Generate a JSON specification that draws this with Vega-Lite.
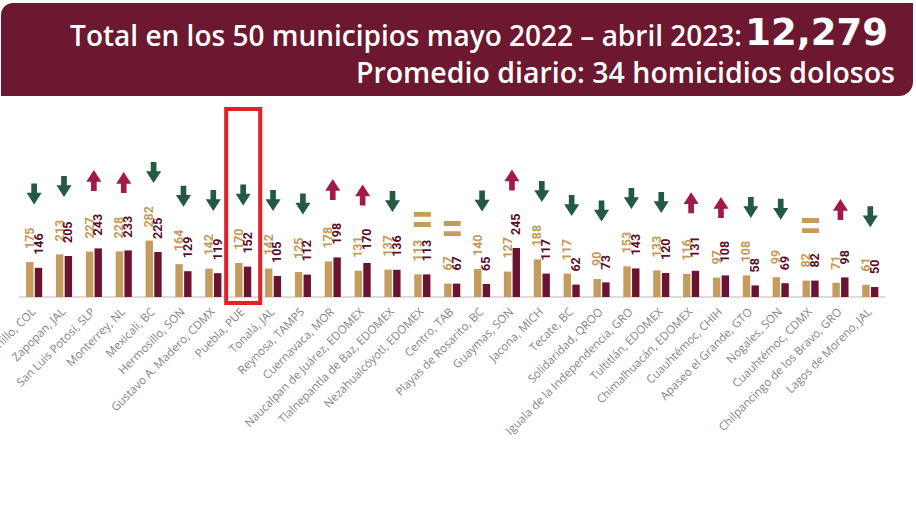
{
  "$schema": "https://vega.github.io/schema/vega-lite/v6.json",
  "autosize": "none",
  "width": 912,
  "height": 297,
  "padding": {"left": 1, "top": 0, "right": 3, "bottom": 231},
  "background": "#ffffff",
  "config": {"view": {"stroke": null}},
  "data": {
    "values": [
      {"municipio": "Manzanillo, COL", "anterior": 175, "actual": 146},
      {"municipio": "Zapopan, JAL", "anterior": 213, "actual": 205},
      {"municipio": "San Luis Potosí, SLP", "anterior": 227, "actual": 243},
      {"municipio": "Monterrey, NL", "anterior": 228, "actual": 233},
      {"municipio": "Mexicali, BC", "anterior": 282, "actual": 225},
      {"municipio": "Hermosillo, SON", "anterior": 164, "actual": 129},
      {"municipio": "Gustavo A. Madero, CDMX", "anterior": 142, "actual": 119},
      {"municipio": "Puebla, PUE", "anterior": 170, "actual": 152},
      {"municipio": "Tonalá, JAL", "anterior": 142, "actual": 105},
      {"municipio": "Reynosa, TAMPS", "anterior": 125, "actual": 112},
      {"municipio": "Cuernavaca, MOR", "anterior": 178, "actual": 198},
      {"municipio": "Naucalpan de Juárez, EDOMEX", "anterior": 131, "actual": 170},
      {"municipio": "Tlalnepantla de Baz, EDOMEX", "anterior": 137, "actual": 136},
      {"municipio": "Nezahualcóyotl, EDOMEX", "anterior": 113, "actual": 113},
      {"municipio": "Centro, TAB", "anterior": 67, "actual": 67},
      {"municipio": "Playas de Rosarito, BC", "anterior": 140, "actual": 65},
      {"municipio": "Guaymas, SON", "anterior": 127, "actual": 245},
      {"municipio": "Jacona, MICH", "anterior": 188, "actual": 117},
      {"municipio": "Tecate, BC", "anterior": 117, "actual": 62},
      {"municipio": "Solidaridad, QROO", "anterior": 90, "actual": 73},
      {"municipio": "Iguala de la Independencia, GRO", "anterior": 153, "actual": 143},
      {"municipio": "Tultitlán, EDOMEX", "anterior": 133, "actual": 120},
      {"municipio": "Chimalhuacán, EDOMEX", "anterior": 116, "actual": 131},
      {"municipio": "Cuauhtémoc, CHIH", "anterior": 97, "actual": 108},
      {"municipio": "Apaseo el Grande, GTO", "anterior": 108, "actual": 58},
      {"municipio": "Nogales, SON", "anterior": 99, "actual": 69},
      {"municipio": "Cuauhtémoc, CDMX", "anterior": 82, "actual": 82},
      {"municipio": "Chilpancingo de los Bravo, GRO", "anterior": 71, "actual": 98},
      {"municipio": "Lagos de Moreno, JAL", "anterior": 61, "actual": 50}
    ]
  },
  "layer": [
    {
      "mark": {"type": "tick", "orient": "horizontal", "size": 30, "thickness": 2, "color": "#dcdcdc", "opacity": 1},
      "encoding": {
        "x": {
          "field": "municipio", "type": "nominal", "title": null,
          "scale": {
            "domain": ["Manzanillo, COL", "Zapopan, JAL", "San Luis Potosí, SLP", "Monterrey, NL", "Mexicali, BC", "Hermosillo, SON", "Gustavo A. Madero, CDMX", "Puebla, PUE", "Tonalá, JAL", "Reynosa, TAMPS", "Cuernavaca, MOR", "Naucalpan de Juárez, EDOMEX", "Tlalnepantla de Baz, EDOMEX", "Nezahualcóyotl, EDOMEX", "Centro, TAB", "Playas de Rosarito, BC", "Guaymas, SON", "Jacona, MICH", "Tecate, BC", "Solidaridad, QROO", "Iguala de la Independencia, GRO", "Tultitlán, EDOMEX", "Chimalhuacán, EDOMEX", "Cuauhtémoc, CHIH", "Apaseo el Grande, GTO", "Nogales, SON", "Cuauhtémoc, CDMX", "Chilpancingo de los Bravo, GRO", "Lagos de Moreno, JAL"],
            "paddingInner": 0.46, "paddingOuter": 1.01, "align": 0.42
          },
          "axis": {
            "labelAngle": -45, "labelAlign": "right", "labelBaseline": "middle",
            "labelPadding": 13, "ticks": false, "tickSize": 0, "domain": false,
            "labelFont": "Open Sans", "labelFontSize": 11.5, "labelColor": "#858585",
            "labelLimit": 400, "labelOverlap": false
          }
        },
        "y": {"datum": 0, "type": "quantitative", "scale": {"domain": [0, 1485], "nice": false, "zero": true}, "axis": null}
      }
    },
    {
      "data": {"values": [{"linea1": "Total en los 50 municipios mayo 2022 – abril 2023:", "total": "12,279", "linea2": "Promedio diario: 34 homicidios dolosos"}]},
      "layer": [
        {
          "mark": {"type": "rect", "color": "#6b1830", "cornerRadiusTopLeft": 12, "cornerRadiusBottomRight": 14},
          "encoding": {"y": {"datum": 1470, "type": "quantitative"}, "y2": {"datum": 1005}}
        },
        {
          "mark": {"type": "text", "align": "right", "baseline": "alphabetic", "font": "Open Sans", "fontWeight": 600, "fontSize": 28, "color": "#ffffff", "dx": -171},
          "encoding": {"text": {"field": "linea1"}, "x": {"value": "width"}, "y": {"datum": 1255, "type": "quantitative"}}
        },
        {
          "mark": {"type": "text", "align": "right", "baseline": "alphabetic", "font": "DejaVu Sans", "fontWeight": "bold", "fontSize": 37, "color": "#ffffff", "dx": -25},
          "encoding": {"text": {"field": "total"}, "x": {"value": "width"}, "y": {"datum": 1260, "type": "quantitative"}}
        },
        {
          "mark": {"type": "text", "align": "right", "baseline": "alphabetic", "font": "Open Sans", "fontWeight": 600, "fontSize": 28.5, "color": "#ffffff", "dx": -18},
          "encoding": {"text": {"field": "linea2"}, "x": {"value": "width"}, "y": {"datum": 1068, "type": "quantitative"}}
        }
      ]
    },
    {
      "transform": [{"fold": ["anterior", "actual"], "as": ["periodo", "valor"]}],
      "layer": [
        {
          "mark": {"type": "bar"},
          "encoding": {
            "x": {"field": "municipio", "type": "nominal"},
            "xOffset": {"field": "periodo", "type": "nominal", "scale": {"domain": ["anterior", "actual"], "paddingInner": 0.15}},
            "y": {"field": "valor", "type": "quantitative"},
            "color": {"field": "periodo", "type": "nominal", "scale": {"domain": ["anterior", "actual"], "range": ["#c49c5e", "#6a1431"]}, "legend": null}
          }
        },
        {
          "mark": {"type": "text", "angle": -90, "align": "left", "baseline": "middle", "dx": 13, "font": "Roboto", "fontWeight": "bold", "fontSize": 12.5},
          "encoding": {
            "x": {"field": "municipio", "type": "nominal"},
            "xOffset": {"field": "periodo", "type": "nominal"},
            "y": {"field": "valor", "type": "quantitative"},
            "text": {"field": "valor", "type": "quantitative"},
            "fill": {"field": "periodo", "type": "nominal", "scale": {"domain": ["anterior", "actual"], "range": ["#c49a5c", "#5a0f29"]}, "legend": null}
          }
        }
      ]
    },
    {
      "transform": [{"filter": "datum.actual < datum.anterior"}],
      "mark": {"type": "point", "shape": "M-0.27,-1L0.27,-1L0.27,-0.12L0.72,-0.12L0,1L-0.72,-0.12L-0.27,-0.12Z", "size": 441, "filled": true, "opacity": 1, "color": "#245a42", "strokeWidth": 0, "yOffset": -68},
      "encoding": {"x": {"field": "municipio", "type": "nominal"}, "y": {"field": "anterior", "type": "quantitative"}}
    },
    {
      "transform": [{"filter": "datum.actual > datum.anterior"}],
      "mark": {"type": "point", "shape": "M-0.27,1L0.27,1L0.27,0.12L0.72,0.12L0,-1L-0.72,0.12L-0.27,0.12Z", "size": 441, "filled": true, "opacity": 1, "color": "#a11a4a", "strokeWidth": 0, "yOffset": -68},
      "encoding": {"x": {"field": "municipio", "type": "nominal"}, "y": {"field": "actual", "type": "quantitative"}}
    },
    {
      "transform": [{"filter": "datum.actual == datum.anterior"}],
      "mark": {"type": "point", "shape": "M-1,-0.88L1,-0.88L1,-0.3L-1,-0.3ZM-1,0.3L1,0.3L1,0.88L-1,0.88Z", "size": 289, "filled": true, "opacity": 1, "color": "#c49c5e", "strokeWidth": 0, "yOffset": -55},
      "encoding": {"x": {"field": "municipio", "type": "nominal"}, "y": {"field": "actual", "type": "quantitative"}}
    },
    {
      "transform": [{"filter": "datum.municipio == 'Puebla, PUE'"}],
      "mark": {"type": "bar", "fill": null, "fillOpacity": 0, "stroke": "#e3202a", "strokeWidth": 4, "width": {"band": 2.11}},
      "encoding": {"x": {"field": "municipio", "type": "nominal"}, "y": {"datum": 940, "type": "quantitative"}, "y2": {"datum": -30}}
    }
  ],
  "resolve": {"scale": {"color": "independent", "fill": "independent"}}
}
